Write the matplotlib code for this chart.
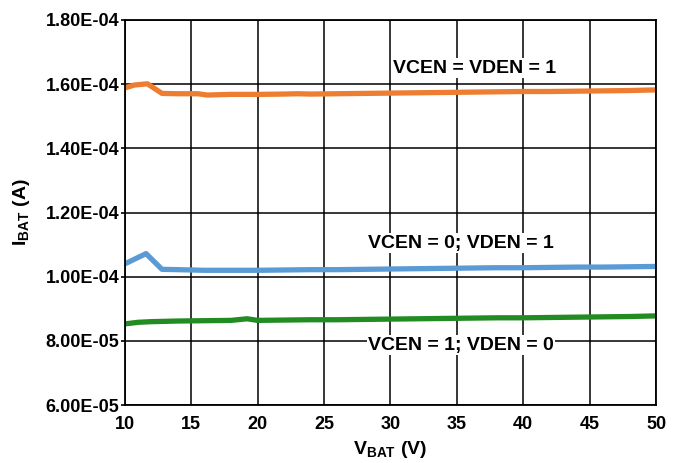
import numpy as np
import matplotlib
matplotlib.use('Agg')
import matplotlib.pyplot as plt
from matplotlib.ticker import FuncFormatter

plt.rcParams['font.family'] = ['Liberation Sans', 'DejaVu Sans']
plt.rcParams['font.weight'] = 'bold'
plt.rcParams['axes.labelweight'] = 'bold'
plt.rcParams['mathtext.fontset'] = 'custom'
plt.rcParams['mathtext.rm'] = 'Liberation Sans:bold'
plt.rcParams['mathtext.bf'] = 'Liberation Sans:bold'

# data (current in units of 1e-4 A)
x_both = [10, 10.7, 11.7, 12.8, 14, 15.5, 16.2, 18, 20, 22, 23, 24, 26, 28, 30,
          32, 34, 36, 38, 40, 42, 44, 46, 48, 50]
i_both = [1.588, 1.597, 1.601, 1.571, 1.570, 1.570, 1.566, 1.568, 1.568, 1.569,
          1.570, 1.569, 1.570, 1.571, 1.572, 1.573, 1.574, 1.575, 1.576, 1.577,
          1.577, 1.578, 1.579, 1.580, 1.582]

x_vden = [10, 11.6, 12.8, 14, 16, 18, 20, 22, 24, 26, 28, 30, 32, 34, 36, 38,
          40, 42, 44, 46, 48, 50]
i_vden = [1.040, 1.072, 1.023, 1.022, 1.020, 1.020, 1.020, 1.021, 1.022, 1.022,
          1.023, 1.024, 1.025, 1.026, 1.027, 1.028, 1.028, 1.029, 1.030, 1.030,
          1.031, 1.032]

x_vcen = [10, 11, 12, 14, 16, 18, 19.2, 20, 22, 24, 26, 28, 30, 32, 34, 36, 38,
          40, 42, 44, 46, 48, 50]
i_vcen = [0.853, 0.858, 0.860, 0.862, 0.863, 0.864, 0.869, 0.864, 0.865, 0.866,
          0.866, 0.867, 0.868, 0.869, 0.870, 0.871, 0.872, 0.872, 0.873, 0.874,
          0.875, 0.876, 0.878]

labels = ['VCEN = VDEN = 1', 'VCEN = 0; VDEN = 1', 'VCEN = 1; VDEN = 0']
colors = ['#ED7D31', '#5B9BD5', '#228B22']

fig = plt.figure(figsize=(6.82, 4.63), dpi=100)
ax = fig.add_axes((0.183, 0.125, 0.779, 0.832))

for xs, ys, c in zip([x_both, x_vden, x_vcen], [i_both, i_vden, i_vcen], colors):
    ax.plot(xs, np.array(ys) * 1e-4, color=c, lw=3.8, solid_capstyle='butt')

ax.set_xlim(10, 50)
ax.set_ylim(6e-5, 1.8e-4)
ax.set_xticks(np.arange(10, 51, 5))
ax.set_yticks(np.arange(6e-5, 1.81e-4, 2e-5))
ax.yaxis.set_major_formatter(FuncFormatter(lambda v, p: '%.2E' % v))
ax.grid(True, color='black', lw=1.1)
for s in ax.spines.values():
    s.set_color('black')
    s.set_linewidth(1.3)
ax.tick_params(axis='x', labelsize=13, length=0, pad=7.5)
ax.tick_params(axis='y', labelsize=13, length=3, width=1.2, pad=1)

ax.set_xlabel('V$_{\\mathregular{BAT}}$ (V)', fontsize=14, labelpad=5)
ax.set_ylabel('I$_{\\mathregular{BAT}}$ (A)', fontsize=14, labelpad=10)

box = dict(facecolor='white', edgecolor='none', pad=1)
ax.text(36.3, 1.650e-4, labels[0], fontsize=14, ha='center', va='center', bbox=box)
ax.text(35.3, 1.105e-4, labels[1], fontsize=14, ha='center', va='center', bbox=box)
ax.text(35.3, 7.87e-5, labels[2], fontsize=14, ha='center', va='center', bbox=box)

fig.savefig('out.png', dpi=100)
